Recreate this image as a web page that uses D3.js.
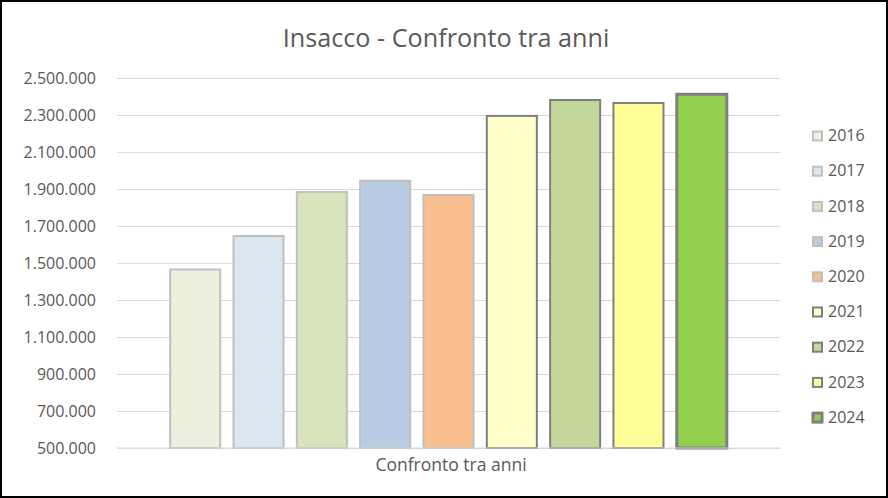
<!DOCTYPE html>
<html><head><meta charset="utf-8">
<script src="https://cdn.jsdelivr.net/npm/d3@7"></script>
<style>html,body{margin:0;padding:0;background:#fff;}</style>
</head><body>
<svg id="c" width="888" height="498"></svg>
<script>
const years = ["2016","2017","2018","2019","2020","2021","2022","2023","2024"];
const values = [1465000, 1646000, 1884000, 1945000, 1868000, 2295000, 2381000, 2365000, 2412000];
const fills = ["#ebf1de","#dce6f1","#d8e4bc","#b8cce4","#fabf8f","#ffffcc","#c4d79b","#ffff99","#92d050"];
const strokes = ["#bfbfbf","#bfbfbf","#bfbfbf","#bfbfbf","#bfbfbf","#7f7f7f","#7f7f7f","#7f7f7f","#7f7f7f"];
const strokeW = [2,2,2,2,2,2,2,2,3];
const yTicks = [500000,700000,900000,1100000,1300000,1500000,1700000,1900000,2100000,2300000,2500000];
const title = "Insacco - Confronto tra anni";
const xLabel = "Confronto tra anni";

const font = "'Open Sans', sans-serif";
const svg = d3.select("#c");
svg.append("rect").attr("x",0).attr("y",0).attr("width",888).attr("height",498).attr("fill","#fff");

const pLeft = 117, pRight = 780, pTop = 78, pBottom = 448;
const y = d3.scaleLinear().domain([500000,2500000]).range([pBottom, pTop]);
const x = d3.scaleBand().domain(years).range([pLeft,pRight]).paddingInner(0.21).paddingOuter(0.84);

const fmt = v => d3.format(",")(v).replace(/,/g,".");

const yAxis = d3.axisLeft(y).tickValues(yTicks).tickSize(-(pRight-pLeft)).tickFormat(fmt).tickPadding(21);
const ga = svg.append("g").attr("transform",`translate(${pLeft},0)`).call(yAxis);
ga.select(".domain").remove();
ga.selectAll(".tick line").attr("stroke","#d9d9d9").attr("stroke-width",1);
ga.selectAll(".tick text").attr("fill","#595959").style("font-family",font).style("font-size","16px");

svg.append("g").selectAll("rect").data(years).join("rect")
  .attr("x", d => x(d))
  .attr("y", (d,i) => y(values[i]))
  .attr("width", x.bandwidth())
  .attr("height", (d,i) => pBottom - y(values[i]))
  .attr("fill", (d,i) => fills[i])
  .attr("stroke", (d,i) => strokes[i])
  .attr("stroke-width", (d,i) => strokeW[i]);

svg.append("line").attr("x1",pLeft).attr("x2",pRight).attr("y1",pBottom).attr("y2",pBottom)
  .attr("stroke","#d9d9d9").attr("stroke-width",1);

svg.append("text").attr("x",446).attr("y",47).attr("text-anchor","middle")
  .attr("fill","#595959").style("font-family",font).style("font-size","25.2px").text(title);

svg.append("text").attr("x",451).attr("y",471).attr("text-anchor","middle")
  .attr("fill","#595959").style("font-family",font).style("font-size","17.5px").text(xLabel);

const lg = svg.append("g").selectAll("g").data(years).join("g")
  .attr("transform",(d,i)=>`translate(813,${135.5 + i*35.2})`);
lg.append("rect").attr("x",0).attr("y",-4).attr("width",9).attr("height",9)
  .attr("fill",(d,i)=>fills[i]).attr("stroke",(d,i)=>strokes[i]).attr("stroke-width",(d,i)=>strokeW[i]);
lg.append("text").attr("x",15).attr("y",0).attr("dy","0.35em")
  .attr("fill","#595959").style("font-family",font).style("font-size","16px").text(d=>d);

svg.append("rect").attr("x",1).attr("y",1).attr("width",886).attr("height",496)
  .attr("fill","none").attr("stroke","#000").attr("stroke-width",2);
</script>
</body></html>
